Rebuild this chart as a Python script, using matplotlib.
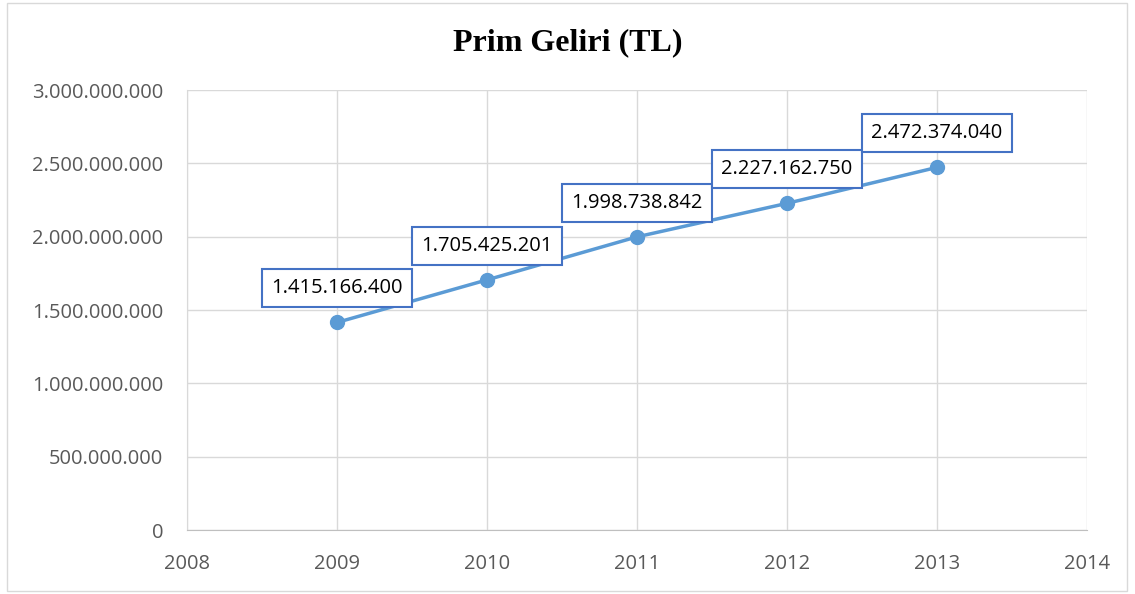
import matplotlib.pyplot as plt
from matplotlib.patches import Rectangle

years = [2009, 2010, 2011, 2012, 2013]
income = [1415166400, 1705425201, 1998738842, 2227162750, 2472374040]
labels = ['1.415.166.400', '1.705.425.201', '1.998.738.842', '2.227.162.750', '2.472.374.040']
y_ticks = [0, 500000000, 1000000000, 1500000000, 2000000000, 2500000000, 3000000000]
y_tick_labels = ['0', '500.000.000', '1.000.000.000', '1.500.000.000',
                 '2.000.000.000', '2.500.000.000', '3.000.000.000']
x_ticks = [2008, 2009, 2010, 2011, 2012, 2013, 2014]

plt.rcParams['font.family'] = ['Open Sans', 'DejaVu Sans']

fig = plt.figure(figsize=(11.35, 5.94), dpi=100)
ax = fig.add_axes([187 / 1135, 64 / 594, 900 / 1135, 440 / 594])

# outer chart border
fig.patches.append(Rectangle((7 / 1135, 3 / 594), 1120 / 1135, 588 / 594,
                             transform=fig.transFigure, fill=False,
                             edgecolor='#D9D9D9', linewidth=1))

ax.plot(years, income, color='#5B9BD5', linewidth=2.5, marker='o',
        markersize=10, zorder=3)

for x, y, lab in zip(years, income, labels):
    ax.annotate(lab, (x, y), xytext=(0, 24.5), textcoords='offset points',
                ha='center', va='center', fontsize=14.5, color='black', zorder=4,
                bbox=dict(boxstyle='square,pad=0.45', facecolor='white',
                          edgecolor='#4472C4', linewidth=1.5))

ax.set_xlim(2008, 2014)
ax.set_ylim(0, 3000000000)
ax.set_xticks(x_ticks)
ax.set_xticklabels([str(t) for t in x_ticks])
ax.set_yticks(y_ticks)
ax.set_yticklabels(y_tick_labels)
ax.tick_params(length=0, labelsize=14.5, labelcolor='#595959', pad=17)
ax.grid(True, color='#D9D9D9', linewidth=1)
ax.set_axisbelow(True)
for side in ['top', 'right']:
    ax.spines[side].set_visible(False)
ax.spines['left'].set_color('#D9D9D9')
ax.spines['bottom'].set_color('#BFBFBF')

fig.text(0.5, 1 - 43 / 594, 'Prim Geliri (TL)', ha='center', va='center',
         fontsize=23, fontweight='bold', family='Liberation Serif')

fig.savefig('out.png', dpi=100)
